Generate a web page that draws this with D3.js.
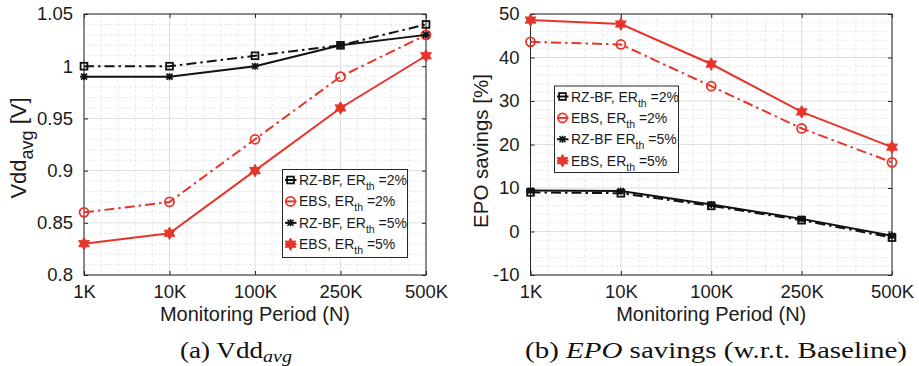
<!DOCTYPE html>
<html><head><meta charset="utf-8">
<script src="https://cdn.jsdelivr.net/npm/d3@7"></script>
<style>
body{margin:0;background:#fff}
svg{display:block}
.sans{font-family:"Liberation Sans",Arial,Helvetica,sans-serif}
.serif{font-family:"Liberation Serif","Times New Roman",serif}
</style>
</head><body>
<svg id="c" width="919" height="366"></svg>
<script>
// ---------- data ----------
const categories = ["1K", "10K", "100K", "250K", "500K"];

const vddRzbf2 = [1.00, 1.00, 1.01, 1.02, 1.04];
const vddEbs2  = [0.86, 0.87, 0.93, 0.99, 1.03];
const vddRzbf5 = [0.99, 0.99, 1.00, 1.02, 1.03];
const vddEbs5  = [0.83, 0.84, 0.90, 0.96, 1.01];

const epoRzbf2 = [9.0, 8.8, 5.9, 2.6, -1.4];
const epoEbs2  = [43.6, 43.0, 33.4, 23.7, 15.9];
const epoRzbf5 = [9.4, 9.3, 6.2, 2.9, -1.0];
const epoEbs5  = [48.6, 47.7, 38.5, 27.5, 19.4];

const vddTicks = [0.8, 0.85, 0.9, 0.95, 1, 1.05];
const vddTickLabels = ["0.8", "0.85", "0.9", "0.95", "1", "1.05"];
const epoTicks = [-10, 0, 10, 20, 30, 40, 50];
const epoTickLabels = ["-10", "0", "10", "20", "30", "40", "50"];

const legendLeft  = [["RZ-BF, ER", "th", " =2%"], ["EBS, ER", "th", " =2%"], ["RZ-BF, ER", "th", " =5%"], ["EBS, ER", "th", " =5%"]];
const legendRight = [["RZ-BF, ER", "th", " =2%"], ["EBS, ER", "th", " =2%"], ["RZ-BF ER", "th", " =5%"], ["EBS, ER", "th", " =5%"]];

// ---------- styles ----------
const RED = "#e5352b", BLACK = "#111";
const styles = [
  {color: BLACK, dash: "10,4,2.5,4", marker: "square"},
  {color: RED,   dash: "10,4,2.5,4", marker: "circle"},
  {color: BLACK, dash: null,         marker: "asterisk"},
  {color: RED,   dash: null,         marker: "hexagram"}
];

const svg = d3.select("#c");

function hexPath(ro, ri) {
  let p = "";
  for (let k = 0; k < 12; k++) {
    const r = k % 2 === 0 ? ro : ri;
    const a = -Math.PI / 2 + k * Math.PI / 6;
    p += (k ? "L" : "M") + (r * Math.cos(a)).toFixed(2) + "," + (r * Math.sin(a)).toFixed(2);
  }
  return p + "Z";
}

function drawMarker(g, type, color, x, y) {
  const m = g.append("g").attr("transform", `translate(${x},${y})`);
  if (type === "square") {
    m.append("rect").attr("x", -3.4).attr("y", -3.4).attr("width", 6.8).attr("height", 6.8)
      .attr("fill", "none").attr("stroke", color).attr("stroke-width", 1.8);
  } else if (type === "circle") {
    m.append("circle").attr("r", 4.5).attr("fill", "none").attr("stroke", color).attr("stroke-width", 1.8);
  } else if (type === "asterisk") {
    m.append("path").attr("d", "M-4,0H4M-3,-3L3,3M-3,3L3,-3M0,-3.5V3.5")
      .attr("stroke", color).attr("stroke-width", 1.6).attr("fill", "none");
  } else if (type === "hexagram") {
    m.append("path").attr("d", hexPath(6.2, 3.5)).attr("fill", color).attr("stroke", color)
      .attr("stroke-width", 1).attr("stroke-linejoin", "round");
  }
}

function panel(opt) {
  const x = d3.scaleLinear().domain([0, categories.length - 1]).range([opt.x0, opt.x1]);
  const y = d3.scaleLinear().domain(opt.ydom).range([opt.y1, opt.y0]);
  const g = svg.append("g");

  // minor grid
  const minorX = d3.range(0, categories.length - 1 + 1e-9, 0.2).filter(v => Math.abs(v - Math.round(v)) > 1e-6);
  const ystep = (opt.ticks[1] - opt.ticks[0]) / 5;
  const minorY = d3.range(opt.ydom[0], opt.ydom[1] + 1e-9, ystep).filter((v, i) => i % 5 !== 0);
  g.append("g").selectAll("line").data(minorX).join("line")
    .attr("x1", d => x(d)).attr("x2", d => x(d)).attr("y1", opt.y0).attr("y2", opt.y1)
    .attr("stroke", "#e9e9e9").attr("stroke-width", 1).attr("stroke-dasharray", "3,2");
  g.append("g").selectAll("line").data(minorY).join("line")
    .attr("y1", d => y(d)).attr("y2", d => y(d)).attr("x1", opt.x0).attr("x2", opt.x1)
    .attr("stroke", "#e9e9e9").attr("stroke-width", 1).attr("stroke-dasharray", "3,2");
  // major grid
  g.append("g").selectAll("line").data(d3.range(categories.length)).join("line")
    .attr("x1", d => x(d)).attr("x2", d => x(d)).attr("y1", opt.y0).attr("y2", opt.y1)
    .attr("stroke", "#dedede").attr("stroke-width", 1);
  g.append("g").selectAll("line").data(opt.ticks).join("line")
    .attr("y1", d => y(d)).attr("y2", d => y(d)).attr("x1", opt.x0).attr("x2", opt.x1)
    .attr("stroke", "#dedede").attr("stroke-width", 1);

  // axes (box with inward ticks)
  const ax = "#262626";
  const xb = d3.axisBottom(x).tickValues(d3.range(categories.length)).tickFormat(i => categories[i]).tickSizeInner(-4).tickSizeOuter(0).tickPadding(10);
  const gx = g.append("g").attr("transform", `translate(0,${opt.y1})`).call(xb);
  gx.select(".domain").remove();
  gx.selectAll("line").attr("stroke", ax);
  gx.selectAll("text").attr("class", "sans").attr("font-size", 18.5).attr("fill", "#1a1a1a").attr("font-family", null);
  const xt = d3.axisTop(x).tickValues(d3.range(categories.length)).tickFormat("").tickSizeInner(-4).tickSizeOuter(0);
  const gxt = g.append("g").attr("transform", `translate(0,${opt.y0})`).call(xt);
  gxt.select(".domain").remove(); gxt.selectAll("line").attr("stroke", ax);

  const yl = d3.axisLeft(y).tickValues(opt.ticks).tickFormat((d, i) => opt.tickLabels[i]).tickSizeInner(-4).tickSizeOuter(0).tickPadding(11);
  const gy = g.append("g").attr("transform", `translate(${opt.x0},0)`).call(yl);
  gy.select(".domain").remove();
  gy.selectAll("line").attr("stroke", ax);
  gy.selectAll("text").attr("class", "sans").attr("font-size", 18.5).attr("fill", "#1a1a1a").attr("font-family", null);
  const yr = d3.axisRight(y).tickValues(opt.ticks).tickFormat("").tickSizeInner(-4).tickSizeOuter(0);
  const gyr = g.append("g").attr("transform", `translate(${opt.x1},0)`).call(yr);
  gyr.select(".domain").remove(); gyr.selectAll("line").attr("stroke", ax);

  g.append("rect").attr("x", opt.x0).attr("y", opt.y0).attr("width", opt.x1 - opt.x0).attr("height", opt.y1 - opt.y0)
    .attr("fill", "none").attr("stroke", ax).attr("stroke-width", 1);

  // series
  opt.series.forEach((vals, si) => {
    const st = styles[si];
    const line = d3.line().x((d, i) => x(i)).y(d => y(d));
    g.append("path").datum(vals).attr("d", line).attr("fill", "none")
      .attr("stroke", st.color).attr("stroke-width", 2).attr("stroke-dasharray", st.dash);
    vals.forEach((v, i) => drawMarker(g, st.marker, st.color, x(i), y(v)));
  });

  // legend
  const L = opt.legend;
  const lg = g.append("g");
  lg.append("rect").attr("x", L.x).attr("y", L.y).attr("width", L.w).attr("height", L.h)
    .attr("fill", "#fff").attr("stroke", ax).attr("stroke-width", 1);
  L.labels.forEach((lab, i) => {
    const cy = L.y + 10.5 + i * 21.4;
    const st = styles[i];
    lg.append("line").attr("x1", L.x + 2.5).attr("x2", L.x + 14).attr("y1", cy).attr("y2", cy)
      .attr("stroke", st.color).attr("stroke-width", 2);
    drawMarker(lg, st.marker, st.color, L.x + 8, cy);
    const t = lg.append("text").attr("class", "sans").attr("x", L.x + 16.5).attr("y", cy + 5)
      .attr("font-size", 14).attr("fill", "#1a1a1a");
    t.append("tspan").text(lab[0]);
    t.append("tspan").attr("dy", 5).attr("font-size", 10.5).text(lab[1]);
    t.append("tspan").attr("dy", -5).text(lab[2]);
  });

  // axis labels
  g.append("text").attr("class", "sans").attr("x", (opt.x0 + opt.x1) / 2).attr("y", 321)
    .attr("text-anchor", "middle").attr("font-size", 20).attr("fill", "#1a1a1a").text("Monitoring Period (N)");
  const ylab = g.append("text").attr("class", "sans").attr("text-anchor", "middle").attr("font-size", opt.ylfs).attr("fill", "#1a1a1a")
    .attr("transform", `translate(${opt.ylx},${opt.yly}) rotate(-90)`);
  opt.ylabel(ylab);

  // caption
  const cap = g.append("text").attr("class", "serif").attr("x", opt.capx).attr("y", 358)
    .attr("text-anchor", "middle").attr("font-size", 23).attr("fill", "#111")
    .attr("textLength", opt.capw).attr("lengthAdjust", "spacingAndGlyphs");
  opt.caption(cap);
}

panel({
  x0: 84, x1: 426, y0: 14, y1: 275, ydom: [0.8, 1.05], ticks: vddTicks, tickLabels: vddTickLabels,
  series: [vddRzbf2, vddEbs2, vddRzbf5, vddEbs5],
  legend: {x: 282.5, y: 169.5, w: 125, h: 88, labels: legendLeft},
  ylx: 26, yly: 148, ylfs: 22,
  ylabel: t => { t.append("tspan").text("Vdd"); t.append("tspan").attr("dy", 7).attr("font-size", 18).text("avg");
                 t.append("tspan").attr("dy", -7).text(" [V]"); },
  capx: 236, capw: 112,
  caption: t => { t.append("tspan").text("(a) Vdd"); t.append("tspan").attr("dy", 4).attr("font-size", 17).attr("font-style", "italic").text("avg"); }
});

panel({
  x0: 530.5, x1: 892, y0: 14, y1: 275, ydom: [-10, 50], ticks: epoTicks, tickLabels: epoTickLabels,
  series: [epoRzbf2, epoEbs2, epoRzbf5, epoEbs5],
  legend: {x: 554.5, y: 86, w: 124, h: 86.5, labels: legendRight},
  ylx: 488, yly: 151, ylfs: 20.5,
  ylabel: t => { t.text("EPO savings [%]"); },
  capx: 716, capw: 382,
  caption: t => { t.append("tspan").text("(b) "); t.append("tspan").attr("font-style", "italic").text("EPO");
                  t.append("tspan").text(" savings (w.r.t. Baseline)"); }
});
</script>
</body></html>
